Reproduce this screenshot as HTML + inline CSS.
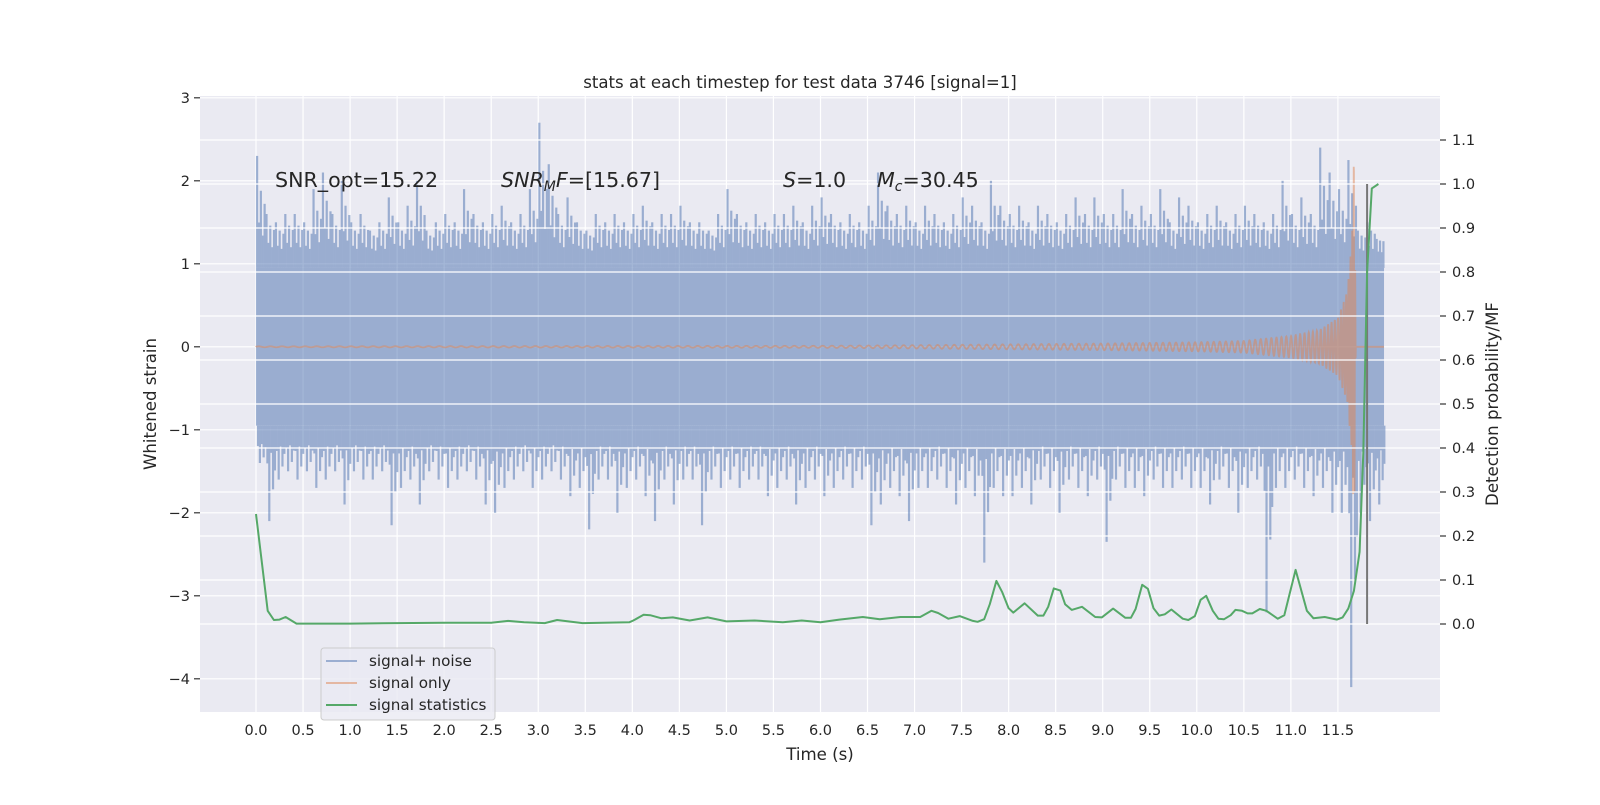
<!DOCTYPE html>
<html><head><meta charset="utf-8"><style>
body{margin:0;background:#fff}
svg text{font-family:"DejaVu Sans","Liberation Sans",sans-serif;fill:#262626}
</style></head><body>
<svg id="chart" width="1600" height="800" xmlns="http://www.w3.org/2000/svg">
<rect x="0" y="0" width="1600" height="800" fill="#fff"/>
<rect x="200" y="96" width="1240" height="616" fill="#eaeaf2"/>
<g id="gridL"></g>
<g id="noise" opacity="0.5"></g>
<g id="chirp" opacity="0.5"></g>
<g id="gridR"></g>
<g id="stats"></g>
<g id="axes"></g>
<text x="800" y="88" font-size="16.6" text-anchor="middle">stats at each timestep for test data 3746 [signal=1]</text>
<text x="820" y="760" font-size="16.6" text-anchor="middle">Time (s)</text>
<text x="0" y="0" font-size="16.6" text-anchor="middle" transform="translate(156,404) rotate(-90)">Whitened strain</text>
<text x="0" y="0" font-size="16.6" text-anchor="middle" transform="translate(1498,404) rotate(-90)">Detection probability/MF</text>
<text x="275" y="187" font-size="20.6">SNR_opt=15.22</text>
<text x="501" y="187" font-size="20.6"><tspan font-style="italic">SNR</tspan><tspan font-style="italic" font-size="14" dy="4">M</tspan><tspan font-style="italic" dy="-4">F</tspan>=[15.67]</text>
<text x="783" y="187" font-size="20.6"><tspan font-style="italic">S</tspan>=1.0</text>
<text x="877" y="187" font-size="20.6"><tspan font-style="italic">M</tspan><tspan font-style="italic" font-size="14" dy="4">c</tspan><tspan dy="-4">=30.45</tspan></text>
<g>
<rect x="321" y="648" width="174" height="72" rx="3" fill="#eaeaf2" fill-opacity="0.8" stroke="#cccccc"/>
<line x1="326" y1="661" x2="357" y2="661" stroke="#4c72b0" stroke-opacity="0.5" stroke-width="2"/>
<text x="369" y="666" font-size="15.2">signal+ noise</text>
<line x1="326" y1="683" x2="357" y2="683" stroke="#dd8452" stroke-opacity="0.5" stroke-width="2"/>
<text x="369" y="688" font-size="15.2">signal only</text>
<line x1="326" y1="705" x2="357" y2="705" stroke="#55a868" stroke-width="2"/>
<text x="369" y="710" font-size="15.2">signal statistics</text>
</g>
</svg>
<script>
const xTicks=[0,0.5,1,1.5,2,2.5,3,3.5,4,4.5,5,5.5,6,6.5,7,7.5,8,8.5,9,9.5,10,10.5,11,11.5];
const yLTicks=[3,2,1,0,-1,-2,-3,-4];
const yRTicks=[1.1,1.0,0.9,0.8,0.7,0.6,0.5,0.4,0.3,0.2,0.1,0.0];
const noiseBinStart=0, noiseBinWidth=0.1, noiseEnd=11.99, noiseCore=0.95, noiseDense=1.25;
const noiseHi=[2.3,1.6,1.5,1.6,1.6,1.5,1.9,2.1,1.6,2.0,1.5,1.6,1.4,1.5,1.8,1.5,1.7,2.0,1.4,1.5,1.6,1.5,1.9,1.6,1.5,1.6,1.7,1.5,1.6,1.9,2.7,2.2,1.6,1.8,1.5,1.4,1.6,1.5,1.6,1.5,1.6,1.7,1.5,1.6,1.6,1.7,1.5,1.5,1.4,1.6,1.9,1.6,1.5,1.6,1.5,1.6,1.6,1.7,1.5,1.7,1.8,1.6,1.5,1.6,1.5,1.7,2.1,1.7,1.6,1.7,1.5,1.7,1.6,1.5,1.6,1.8,1.7,1.5,2.0,1.7,1.6,1.7,1.5,1.7,1.6,1.5,1.6,1.8,1.6,1.8,1.6,1.6,1.9,1.6,1.7,1.6,1.9,1.5,1.8,1.7,1.5,1.6,1.7,1.5,1.6,1.7,1.6,1.5,1.6,2.0,1.6,1.8,1.6,2.4,2.1,1.9,2.25,1.4,1.5,1.3];
const noiseLo=[-1.4,-2.1,-1.6,-1.5,-1.6,-1.5,-1.7,-1.6,-1.5,-1.9,-1.5,-1.6,-1.6,-1.5,-2.15,-1.7,-1.6,-1.9,-1.5,-1.6,-1.7,-1.6,-1.5,-1.6,-1.9,-2.0,-1.7,-1.6,-1.5,-1.7,-1.6,-1.5,-1.6,-1.8,-1.7,-2.2,-1.6,-1.6,-2.0,-1.7,-1.6,-1.8,-2.1,-1.6,-1.9,-1.6,-1.6,-2.15,-1.6,-1.7,-1.6,-1.7,-1.6,-1.6,-1.8,-1.7,-1.6,-1.9,-1.7,-1.6,-1.8,-1.7,-1.6,-1.7,-1.6,-2.15,-1.9,-1.7,-1.8,-2.1,-1.7,-1.7,-1.6,-1.7,-1.9,-1.7,-1.8,-2.6,-1.7,-1.8,-1.8,-1.7,-1.9,-1.6,-1.7,-2.0,-1.6,-1.7,-1.8,-1.6,-2.35,-1.6,-1.7,-1.7,-1.8,-1.6,-1.7,-1.7,-1.6,-1.7,-1.7,-1.9,-1.6,-1.7,-2.0,-1.7,-1.6,-3.2,-1.7,-1.7,-1.6,-1.7,-1.8,-1.7,-2.0,-2.0,-4.1,-2.0,-2.1,-1.9];
const chirpT=[0,6.0,7.0,8.0,9.0,10.0,10.5,10.66,11.0,11.3,11.5,11.6,11.65,11.67,11.69];
const chirpAmp=[0.005,0.012,0.02,0.03,0.04,0.055,0.07,0.09,0.13,0.2,0.35,0.67,1.3,2.4,0.3];
const chirpFreq=[8,10,11,12,13,15,16,17,20,24,30,40,55,65,70];
const chirpEnd=11.69;
const statT=[0,0.124,0.19,0.25,0.315,0.43,1.0,1.5,2.0,2.5,2.68,2.85,3.07,3.2,3.47,3.97,4.01,4.12,4.19,4.31,4.43,4.61,4.8,5.0,5.3,5.6,5.8,6.0,6.2,6.45,6.63,6.85,7.06,7.18,7.25,7.36,7.48,7.62,7.67,7.74,7.80,7.87,7.93,8.0,8.05,8.17,8.31,8.37,8.42,8.48,8.55,8.60,8.67,8.78,8.92,8.99,9.11,9.24,9.30,9.35,9.42,9.48,9.54,9.6,9.66,9.73,9.85,9.91,9.98,10.04,10.1,10.17,10.23,10.29,10.36,10.41,10.48,10.54,10.59,10.67,10.74,10.86,10.93,11.05,11.17,11.24,11.36,11.49,11.55,11.61,11.67,11.73,11.77,11.81,11.86,11.93];
const statP=[0.25,0.03,0.009,0.01,0.016,0.001,0.001,0.002,0.003,0.003,0.007,0.004,0.002,0.009,0.002,0.004,0.008,0.021,0.02,0.013,0.015,0.008,0.015,0.006,0.008,0.004,0.008,0.004,0.01,0.016,0.011,0.016,0.016,0.03,0.025,0.012,0.018,0.007,0.005,0.011,0.045,0.098,0.073,0.036,0.026,0.047,0.019,0.019,0.039,0.081,0.076,0.045,0.032,0.039,0.016,0.015,0.035,0.014,0.014,0.034,0.089,0.08,0.036,0.019,0.022,0.033,0.012,0.009,0.018,0.055,0.064,0.03,0.012,0.011,0.02,0.032,0.03,0.024,0.024,0.034,0.03,0.012,0.02,0.123,0.03,0.013,0.016,0.01,0.015,0.035,0.075,0.164,0.39,0.8,0.99,1.0];
const markerT=11.81, markerFrom=0.0, markerTo=1.0;

const NS='http://www.w3.org/2000/svg';
const X0=200,X1=1440,Y0=96,Y1=712;
function xS(t){return 256+94.08*t;}
function yL(v){return 346.8-83*v;}
function yR(v){return 624-440*v;}
function mk(tag,attrs,parent){const e=document.createElementNS(NS,tag);for(const k in attrs)e.setAttribute(k,attrs[k]);parent.appendChild(e);return e;}
function interp(xs,ys,x){if(x<=xs[0])return ys[0];for(let i=1;i<xs.length;i++){if(x<=xs[i]){const f=(x-xs[i-1])/(xs[i]-xs[i-1]);return ys[i-1]+f*(ys[i]-ys[i-1]);}}return ys[ys.length-1];}
const gL=document.getElementById('gridL'),gR=document.getElementById('gridR'),ax=document.getElementById('axes');
xTicks.forEach(t=>{
  const l=mk('line',{x1:xS(t),x2:xS(t),y1:Y0,y2:Y1,stroke:'#fff','stroke-width':1.2},gL);
  
  
  const tx=mk('text',{x:xS(t),y:735,'font-size':14.5,'text-anchor':'middle'},ax);
  tx.textContent=t.toFixed(1);
  
  
});
yLTicks.forEach(v=>{
  const l=mk('line',{x1:X0,x2:X1,y1:yL(v),y2:yL(v),stroke:'#fff','stroke-width':1.2},gL);
  
  
  const tk=mk('line',{x1:X0-6,x2:X0,y1:yL(v),y2:yL(v),stroke:'#333','stroke-width':1.2},ax);
  
  
  const tx=mk('text',{x:X0-10,y:yL(v)+5,'font-size':14.5,'text-anchor':'end'},ax);
  tx.textContent=(v<0?'\u2212':'')+Math.abs(v);
  
  
});
yRTicks.forEach(v=>{
  const l=mk('line',{x1:X0,x2:X1,y1:yR(v),y2:yR(v),stroke:'#fff','stroke-width':1.2},gR);
  
  
  const tk=mk('line',{x1:X1,x2:X1+6,y1:yR(v),y2:yR(v),stroke:'#333','stroke-width':1.2},ax);
  
  
  const tx=mk('text',{x:X1+12,y:yR(v)+5,'font-size':14.5},ax);
  tx.textContent=v.toFixed(1);
  
  
});
// noise
const gN=document.getElementById('noise');
const band=mk('rect',{x:xS(0),y:yL(noiseCore),width:xS(noiseEnd)-xS(0),height:yL(-noiseCore)-yL(noiseCore),fill:'#4c72b0'},gN);


const upFr=[1,0.35,0.6,0.2,0.45];
const dnFr=[0.3,1,0.15,0.55,0.4];
for(let i=0;i<noiseHi.length;i++){
  const t0=noiseBinStart+i*noiseBinWidth;
  const xa=xS(t0), w=xS(Math.min(t0+noiseBinWidth,noiseEnd))-xa;
  for(let k=0;k<5;k++){
    const xx=xa+k*w/5;
    const hi=noiseDense+(noiseHi[i]-noiseDense)*upFr[k]-(k%2?0.12:0);
    const r=mk('rect',{x:xx,y:yL(hi),width:2.2,height:yL(noiseCore)-yL(hi),fill:'#4c72b0'},gN);
    
    
    const lo=-noiseDense+(noiseLo[i]+noiseDense)*dnFr[k]+(k%2?0:0.1);
    const r2=mk('rect',{x:xx+0.9,y:yL(-noiseCore),width:2.2,height:yL(lo)-yL(-noiseCore),fill:'#4c72b0'},gN);
    
    
  }
}
// chirp
const gC=document.getElementById('chirp');
let ph=0,d='M'+xS(0)+','+yL(0);const dt=0.002;
for(let t=0;t<=chirpEnd;t+=dt){const a=interp(chirpT,chirpAmp,t),f=interp(chirpT,chirpFreq,t);ph+=2*Math.PI*f*dt;d+=' L'+xS(t).toFixed(2)+','+yL(a*Math.sin(ph)).toFixed(2);}
d+=' L'+xS(chirpEnd)+','+yL(0)+' L'+xS(noiseEnd)+','+yL(0);
const cp=mk('path',{d:d,fill:'none',stroke:'#dd8452','stroke-width':1.8},gC);


// stats
const gS=document.getElementById('stats');
const ml=mk('line',{x1:xS(markerT),x2:xS(markerT),y1:yR(markerFrom),y2:yR(markerTo),stroke:'#777','stroke-width':2},gS);


const sp=mk('polyline',{points:statT.map((t,i)=>xS(t).toFixed(1)+','+yR(statP[i]).toFixed(1)).join(' '),fill:'none',stroke:'#55a868','stroke-width':2,'stroke-linejoin':'round'},gS);


</script>
</body></html>
